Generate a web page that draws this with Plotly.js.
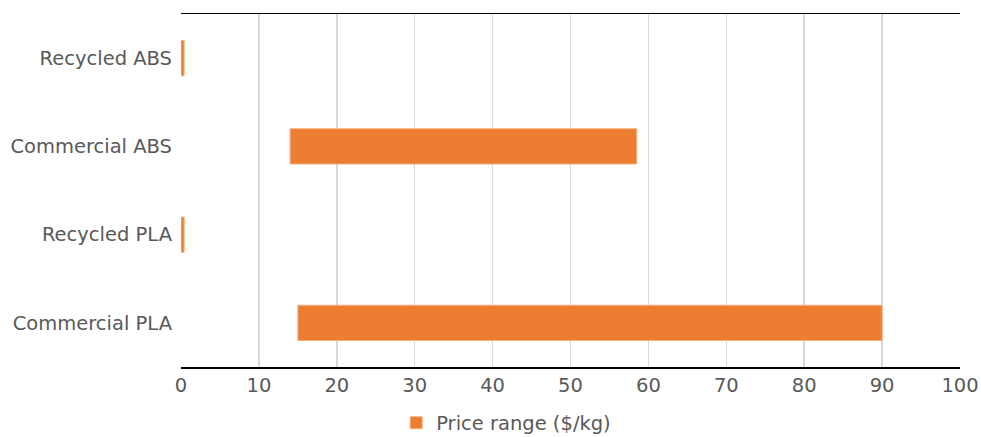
<!DOCTYPE html>
<html>
<head>
<meta charset="utf-8">
<script src="https://cdn.plot.ly/plotly-3.0.1.min.js"></script>
<style>html,body{margin:0;padding:0;background:#fff;}#chart{width:981px;height:437px;}</style>
</head>
<body>
<div id="chart"></div>
<script>
const categories = ['Commercial PLA', 'Recycled PLA', 'Commercial ABS', 'Recycled ABS'];
const priceLow = [15, 0, 14, 0];
const priceHigh = [90, 0.4, 58.5, 0.4];
const seriesName = 'Price range ($/kg)';
const xTicks = [0, 10, 20, 30, 40, 50, 60, 70, 80, 90, 100];

const lengths = priceHigh.map((h, i) => h - priceLow[i]);

const trace = {
  type: 'bar',
  orientation: 'h',
  y: categories,
  x: lengths,
  base: priceLow,
  name: seriesName,
  width: 0.4,
  marker: { color: '#ED7D31', line: { color: '#F6B183', width: 1 } },
  showlegend: true,
  hoverinfo: 'x+y'
};

const layout = {
  width: 981,
  height: 437,
  margin: { l: 181, r: 21, t: 14, b: 70, autoexpand: false },
  paper_bgcolor: '#fff',
  plot_bgcolor: '#fff',
  font: { family: 'DejaVu Sans, sans-serif', size: 19.5, color: '#595959' },
  showlegend: true,
  legend: {
    orientation: 'h',
    xref: 'container', yref: 'container',
    x: 0.516, xanchor: 'center',
    y: 0.032, yanchor: 'middle',
    itemwidth: 30,
    font: { size: 19.5, color: '#595959' }
  },
  xaxis: {
    range: [0, 100],
    tickvals: xTicks,
    ticktext: xTicks.map(String),
    showgrid: true,
    gridcolor: '#d9d9d9',
    gridwidth: 1.5,
    zeroline: false,
    showline: true,
    linecolor: '#000',
    linewidth: 1.5,
    mirror: true,
    ticks: '',
    fixedrange: true
  },
  yaxis: {
    type: 'category',
    categoryorder: 'array',
    categoryarray: categories,
    showgrid: false,
    zeroline: false,
    showline: false,
    ticks: '',
    ticklabelstandoff: 8,
    fixedrange: true
  },
  bargap: 0.6
};

Plotly.newPlot('chart', [trace], layout, { displayModeBar: false, staticPlot: true });
</script>
</body>
</html>
